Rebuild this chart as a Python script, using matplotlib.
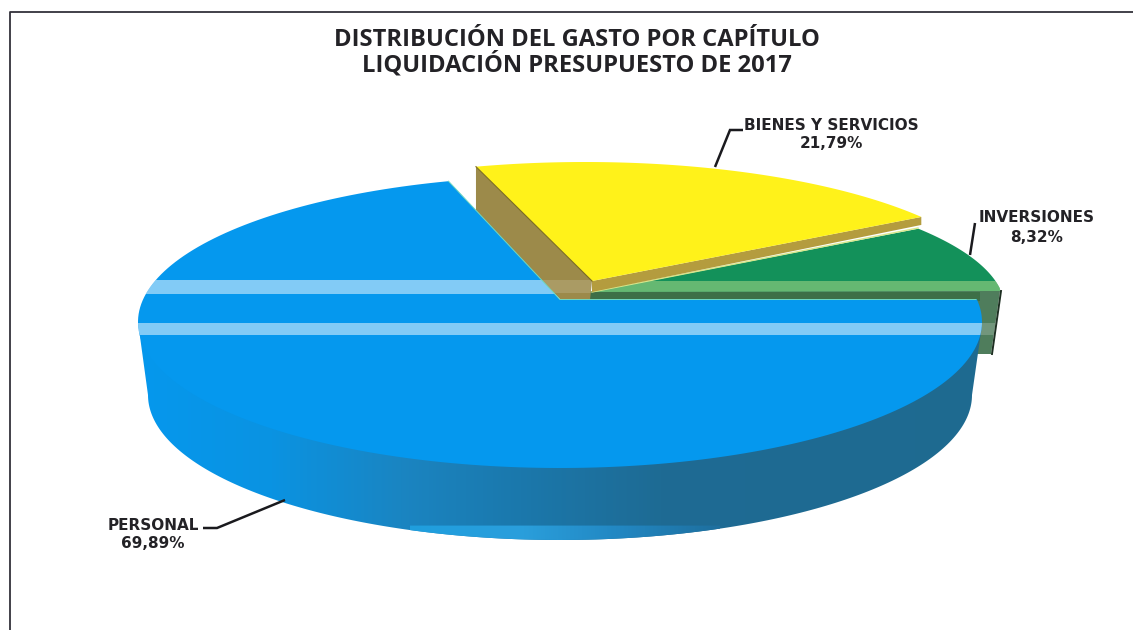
import numpy as np
import matplotlib
matplotlib.use("Agg")
import matplotlib.pyplot as plt
from matplotlib.patches import Polygon, Rectangle
from matplotlib.colors import LinearSegmentedColormap

TITLE = ["DISTRIBUCIÓN DEL GASTO POR CAPÍTULO", "LIQUIDACIÓN PRESUPUESTO DE 2017"]
CATEGORIES = ["PERSONAL", "BIENES Y SERVICIOS", "INVERSIONES"]
SHARES = [69.89, 21.79, 8.32]
VALUE_LABELS = ["69,89%", "21,79%", "8,32%"]

W, H = 1133, 630
fig = plt.figure(figsize=(W / 100, H / 100), dpi=100)
ax = fig.add_axes([0, 0, 1, 1])
ax.set_xlim(0, W)
ax.set_ylim(H, 0)
ax.axis("off")


def arc(cx, cy, rx, ry, a0, sweep, n=200):
    """Points from angle a0 going clockwise on screen by sweep degrees."""
    t = np.radians(np.linspace(a0, a0 - sweep, n))
    return np.column_stack([cx + rx * np.cos(t), cy - ry * np.sin(t)])


def shade(poly_pts, xs, cols, zorder, y0=0, y1=H):
    clip = Polygon(poly_pts, closed=True, fc="none", ec="none", transform=ax.transData)
    ax.add_patch(clip)
    pos = (np.array(xs, float) - xs[0]) / (xs[-1] - xs[0])
    cmap = LinearSegmentedColormap.from_list("g", list(zip(pos, cols)))
    grad = np.linspace(0, 1, 512)[None, :]
    im = ax.imshow(grad, extent=(xs[0], xs[-1], y1, y0), cmap=cmap,
                   aspect="auto", zorder=zorder)
    im.set_clip_path(clip)
    return im


def band(poly_pts, y0, y1, x0, x1, alpha, zorder, color="white"):
    clip = Polygon(poly_pts, closed=True, fc="none", ec="none", transform=ax.transData)
    ax.add_patch(clip)
    r = Rectangle((x0, y0), x1 - x0, y1 - y0, fc=color, ec="none", alpha=alpha, zorder=zorder)
    ax.add_patch(r)
    r.set_clip_path(clip)


BLUE = "#0598ee"
YELLOW = "#fff21a"
GREEN = "#13915a"

# page frame
ax.plot([9.5, 9.5, W], [H, 11.5, 11.5], color="#33323a", lw=1.3, zorder=1)

share_personal, share_bienes, share_inv = SHARES

# green slice (back right)
g_sweep = share_inv * 3.6 * 0.95
g_top = arc(585, 309, 420, 132, 9 + g_sweep, g_sweep)
green_top = np.vstack([[[592, 292]], g_top, [[1000, 291]]])
green_body = [[590, 291], [1000, 291], [991, 354], [975, 354], [960, 301], [590, 301]]
ax.add_patch(Polygon(green_body, closed=True, fc="#4f7d5c", ec="none", zorder=2))
band(green_body, 323, 335, 960, 1010, 0.2, 3)
ax.add_patch(Rectangle((590, 292), 390, 9, fc="#3d6f47", ec="none", zorder=3))
ax.add_patch(Polygon(green_top, closed=True, fc=GREEN, ec="none", zorder=3))
band(green_top, 281, 292, 580, 1010, 0.5, 4, color="#b8e08a")
ax.plot([1001, 992], [291, 354], color="#1d2f22", lw=1.4, zorder=4)
ax.plot([592, 918], [292, 228], color="#d8e88a", lw=1, zorder=5)

# yellow slice
y_sweep = share_bienes * 3.6 * 0.87
y_arc = arc(585, 299, 420, 137, 36.8 + y_sweep, y_sweep)
ye_left, ye_right = y_arc[0], y_arc[-1]
y_apex = [592, 281]
side_l = [ye_left, [ye_left[0], 214], [560, 299], [590, 300], y_apex]
side_f = [y_apex, ye_right, [ye_right[0], ye_right[1] + 8], [592, 292]]
ax.add_patch(Polygon(side_l, closed=True, fc="#9c8a4a", ec="none", zorder=5))
ax.add_patch(Polygon(side_f, closed=True, fc="#b49c3e", ec="none", zorder=5))
band(side_l, 280, 293, 470, 600, 0.15, 6)
ax.add_patch(Polygon(np.vstack([[y_apex], y_arc]), closed=True, fc=YELLOW, ec="none", zorder=6))
ax.plot([ye_left[0], 592], [ye_left[1], 281], color="#7a6a20", lw=0.8, zorder=6)

# blue slice: side wall
bottom = arc(560, 395, 412, 145, 180, -180)
side = np.vstack([[[138, 322]], bottom, [[982, 325]]])
shade(side, [130, 270, 400, 520, 660, 1000],
      ["#0598ee", "#0a93e2", "#1a85c2", "#1b78ac", "#1e6b94", "#1f6a90"], 8)
low = bottom[bottom[:, 1] > 525]
shade(low, [410, 520, 620, 720], ["#1f9ede", "#2a9fdc", "#2287c2", "#1e6f9e"], 9)

# blue slice: top
b_sweep = share_personal * 3.6 * 1.048
b_arc = arc(560, 322, 422, 146, 9, b_sweep)
blue_top = np.vstack([[[560, 299.5]], b_arc])
ax.add_patch(Polygon(blue_top, closed=True, fc=BLUE, ec="none", zorder=10))
band(blue_top, 280, 294, 130, 560, 0.50, 11)
band(blue_top, 323, 335, 130, 990, 0.50, 11)
ax.plot([b_arc[-1][0], 560, 976], [b_arc[-1][1], 299.5, 299.5], color="#6fd8c0", lw=0.7, zorder=11)

# leaders
lead = dict(color="#1a1a1e", lw=1.8, zorder=12, solid_capstyle="butt", solid_joinstyle="miter")
ax.plot([715, 730, 743], [167, 130, 130], **lead)
ax.plot([970, 975], [255, 223], **lead)
ax.plot([285, 217, 203], [500, 528, 528], **lead)

# texts
tc = "#232226"
title_kw = dict(family="Open Sans", weight="bold", fontsize=17.1, color=tc, ha="center", va="center")
ax.text(577, 39.5, TITLE[0], **title_kw)
ax.text(577, 65, TITLE[1], **title_kw)
lab_kw = dict(family="DejaVu Sans", weight="bold", fontsize=11, color=tc, ha="center", va="center")
pos = {0: (153, 525, 543), 1: (831, 125, 144), 2: (1037, 218, 237)}
for i, name in enumerate(CATEGORIES):
    x, y0, y1 = pos[i]
    ax.text(x, y0, name, **lab_kw)
    ax.text(x, y1, VALUE_LABELS[i], **lab_kw)

ax.set_xlim(0, W)
ax.set_ylim(H, 0)
fig.savefig("out.png", dpi=100, facecolor="white")
